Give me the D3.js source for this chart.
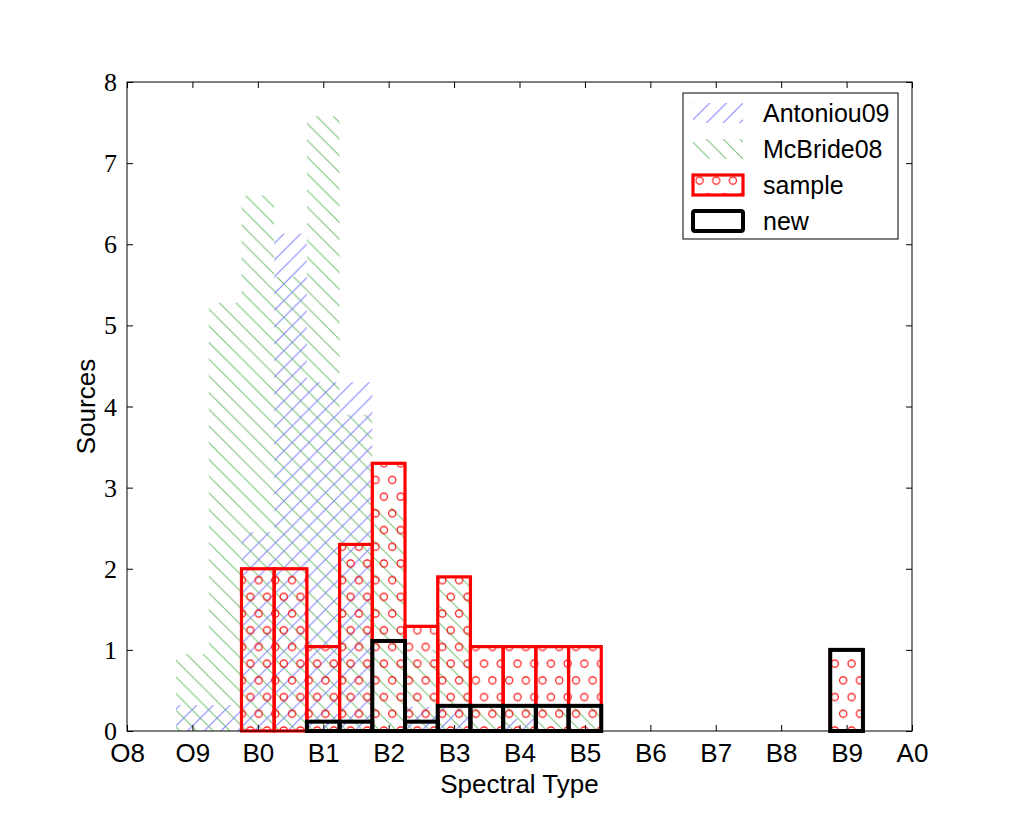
<!DOCTYPE html>
<html>
<head>
<meta charset="utf-8">
<script src="https://cdn.jsdelivr.net/npm/d3@7"></script>
<style>
  body { margin: 0; background: #fff; }
  svg { display: block; }
</style>
</head>
<body>
<div id="chart"></div>
<script>
// spectral type ticks, O8 = 0 ... A0 = 12
const typeLabels = ["O8", "O9", "B0", "B1", "B2", "B3", "B4", "B5", "B6", "B7", "B8", "B9", "A0"];
const yTicks = [0, 1, 2, 3, 4, 5, 6, 7, 8];

// literature histograms (half-subtype bins, centre in type units)
const litBins = [1, 1.5, 2, 2.5, 3, 3.5, 4, 4.5, 5, 5.5, 6, 6.5, 7];
const mcbride08 = [0.95, 5.28, 6.6, 5.6, 7.58, 3.9, 2.75, 1.0, 1.9, 0.3, 0.3, 0.3, 0.3];
const antoniou09 = [0.32, 0.32, 2.45, 6.13, 4.3, 4.3, 0, 0.3, 0.28, 0, 0.15, 0, 0];

// this work
const sampleBins = [2, 2.5, 3, 3.5, 4, 4.5, 5, 5.5, 6, 6.5, 7, 11];
const sampleCounts = [2.0, 2.0, 1.04, 2.3, 3.3, 1.29, 1.9, 1.04, 1.04, 1.04, 1.04, 1.0];
const newBins = [3, 3.5, 4, 4.5, 5, 5.5, 6, 6.5, 7, 11];
const newCounts = [0.115, 0.115, 1.11, 0.115, 0.31, 0.31, 0.31, 0.31, 0.31, 1.0];

const legendNames = ["Antoniou09", "McBride08", "sample", "new"];

const width = 1013, height = 813;
const margin = {top: 82, right: 101, bottom: 82, left: 127};
const binWidth = 0.5;

const svg = d3.select("#chart").append("svg")
  .attr("width", width).attr("height", height);

const x = d3.scaleLinear().domain([0, 12]).range([margin.left, width - margin.right]);
const y = d3.scaleLinear().domain([0, 8]).range([height - margin.bottom, margin.top]);

// hatch patterns
const defs = svg.append("defs");
const s = 16.7;

function linePattern(id, color, forward)
{
  const p = defs.append("pattern")
    .attr("id", id)
    .attr("patternUnits", "userSpaceOnUse")
    .attr("width", s).attr("height", s);
  let d;
  if (forward)
    d = `M0,${s} L${s},0 M${-s/2},${s/2} L${s/2},${-s/2} M${s/2},${1.5*s} L${1.5*s},${s/2}`;
  else
    d = `M0,0 L${s},${s} M${-s/2},${s/2} L${s/2},${1.5*s} M${s/2},${-s/2} L${1.5*s},${s/2}`;
  p.append("path").attr("d", d)
    .attr("stroke", color).attr("stroke-width", 1).attr("fill", "none");
}
linePattern("hatch-blue", "#8080ff", true);
linePattern("hatch-green", "#74bf74", false);

const dots = defs.append("pattern")
  .attr("id", "hatch-dots")
  .attr("patternUnits", "userSpaceOnUse")
  .attr("width", s).attr("height", 2 * s)
  .attr("x", 4).attr("y", 4);
dots.append("circle").attr("cx", s / 4).attr("cy", s / 2).attr("r", 3.6);
dots.append("circle").attr("cx", 3 * s / 4).attr("cy", 1.5 * s).attr("r", 3.6);
dots.selectAll("circle").attr("fill", "none").attr("stroke", "#ff0000").attr("stroke-width", 1.1);

function binRects(cls, bins, values)
{
  return svg.append("g").attr("class", cls)
    .selectAll("rect")
    .data(bins.map((b, i) => ({b: b, v: values[i]})).filter(d => d.v > 0))
    .enter().append("rect")
    .attr("x", d => x(d.b - binWidth / 2))
    .attr("width", d => x(d.b + binWidth / 2) - x(d.b - binWidth / 2))
    .attr("y", d => y(d.v))
    .attr("height", d => y(0) - y(d.v));
}

binRects("mcbride", litBins, mcbride08).attr("fill", "url(#hatch-green)");
binRects("antoniou", litBins, antoniou09).attr("fill", "url(#hatch-blue)");
binRects("sample", sampleBins, sampleCounts)
  .attr("fill", "url(#hatch-dots)")
  .attr("stroke", "#ff0000").attr("stroke-width", 3.2);
binRects("new", newBins, newCounts)
  .attr("fill", "none")
  .attr("stroke", "#000").attr("stroke-width", 4);

// axes, ticks pointing inwards
const tickLen = 6;
const xBottom = svg.append("g")
  .attr("transform", `translate(0,${y(0)})`)
  .call(d3.axisBottom(x).tickValues(d3.range(13)).tickFormat(i => typeLabels[i])
    .tickSize(-tickLen).tickPadding(13));
const xTop = svg.append("g")
  .attr("transform", `translate(0,${y(8)})`)
  .call(d3.axisTop(x).tickValues(d3.range(13)).tickFormat("").tickSize(-tickLen));
const yLeft = svg.append("g")
  .attr("transform", `translate(${x(0)},0)`)
  .call(d3.axisLeft(y).tickValues(yTicks).tickFormat(d3.format("d"))
    .tickSize(-tickLen).tickPadding(10));
const yRight = svg.append("g")
  .attr("transform", `translate(${x(12)},0)`)
  .call(d3.axisRight(y).tickValues(yTicks).tickFormat("").tickSize(-tickLen));

[xBottom, xTop, yLeft, yRight].forEach(g => {
  g.select(".domain").remove();
  g.selectAll(".tick line").attr("stroke", "#000").attr("stroke-width", 1);
});
xBottom.selectAll("text")
  .attr("font-family", "Liberation Sans, Arial, sans-serif")
  .attr("font-size", "26px").attr("fill", "#000");
yLeft.selectAll("text")
  .attr("font-family", "Liberation Serif, Times New Roman, serif")
  .attr("font-size", "26px").attr("fill", "#000")
  .attr("dy", "0.33em");

svg.append("rect")
  .attr("x", x(0)).attr("y", y(8))
  .attr("width", x(12) - x(0)).attr("height", y(0) - y(8))
  .attr("fill", "none").attr("stroke", "#000").attr("stroke-width", 1);

// axis titles
svg.append("text")
  .attr("x", (x(0) + x(12)) / 2)
  .attr("y", 793)
  .attr("text-anchor", "middle")
  .attr("font-family", "Liberation Sans, Arial, sans-serif")
  .attr("font-size", "26px")
  .text("Spectral Type");

svg.append("text")
  .attr("transform", `translate(95,${(y(0) + y(8)) / 2}) rotate(-90)`)
  .attr("text-anchor", "middle")
  .attr("font-family", "Liberation Sans, Arial, sans-serif")
  .attr("font-size", "26px")
  .text("Sources");

// legend
const legend = svg.append("g").attr("transform", "translate(683,93)");
legend.append("rect")
  .attr("width", 215).attr("height", 146)
  .attr("fill", "#fff").attr("stroke", "#000").attr("stroke-width", 1);

const patchFills = ["url(#hatch-blue)", "url(#hatch-green)", "url(#hatch-dots)", "none"];
const patchStroke = ["none", "none", "#ff0000", "#000"];
const patchStrokeW = [0, 0, 3.2, 4];

const entry = legend.selectAll(".entry")
  .data(legendNames)
  .enter().append("g")
  .attr("class", "entry")
  .attr("transform", (d, i) => `translate(0,${20 + i * 36})`);

entry.append("rect")
  .attr("x", 10).attr("y", -10)
  .attr("width", 50).attr("height", 20)
  .attr("fill", (d, i) => patchFills[i])
  .attr("stroke", (d, i) => patchStroke[i])
  .attr("stroke-width", (d, i) => patchStrokeW[i])
  .attr("rx", (d, i) => i === 3 ? 2 : 0);

entry.append("text")
  .attr("x", 80).attr("y", 0)
  .attr("dy", "0.35em")
  .attr("font-family", "Liberation Sans, Arial, sans-serif")
  .attr("font-size", "25px")
  .text(d => d);
</script>
</body>
</html>
